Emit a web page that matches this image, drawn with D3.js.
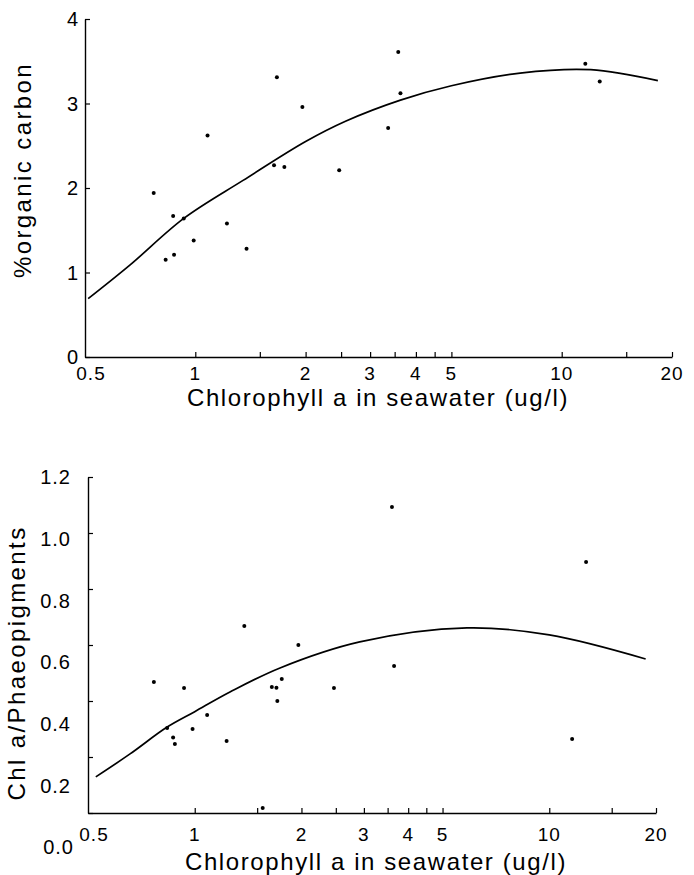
<!DOCTYPE html>
<html>
<head>
<meta charset="utf-8">
<script src="https://cdn.jsdelivr.net/npm/d3@7"></script>
<style>
    body { margin: 0; background: #fff; }
    svg { display: block; font-family: "Liberation Sans", Arial, sans-serif; }
</style>
</head>
<body>
<svg class="chlPlots" width="694" height="875"></svg>
<script>
// shared x axis (log scale, chlorophyll in seawater)
const xTickValues = [1, 1.5, 2, 2.5, 3, 3.5, 4, 4.5, 5, 10, 15, 20];
const xTickLabels = [0.5, 1, 2, 3, 4, 5, 10, 20];

// top panel: % organic carbon
const carbonChl = [1.67, 1.96, 1.08, 1.64, 1.75, 2.47, 0.77, 0.87, 0.93, 1.22, 0.99, 1.38, 0.83, 0.875, 3.58, 3.63, 3.36, 11.6, 12.7];
const carbonPct = [3.31, 2.96, 2.62, 2.27, 2.25, 2.21, 1.94, 1.67, 1.64, 1.58, 1.38, 1.28, 1.15, 1.21, 3.61, 3.12, 2.71, 3.47, 3.26];
const carbonFitChl = [0.51, 0.664, 0.93, 1.35, 2, 2.57, 3.63, 5, 7.7, 12, 18.3];
const carbonFitPct = [0.69, 1.09, 1.64, 2.09, 2.55, 2.79, 3.04, 3.21, 3.36, 3.40, 3.27];
const carbonTicks = [0, 1, 2, 3, 4];

// bottom panel: chl a / phaeopigments
const ratioChl = [1.38, 1.96, 3.60, 12.7, 0.767, 0.933, 1.084, 0.986, 0.869, 0.879, 0.836, 1.23, 1.65, 1.70, 1.76, 1.71, 2.47, 1.555, 3.65, 11.6];
const ratioVal = [0.668, 0.60, 1.093, 0.896, 0.468, 0.446, 0.35, 0.30, 0.27, 0.246, 0.304, 0.257, 0.45, 0.447, 0.479, 0.40, 0.446, 0.018, 0.525, 0.264];
const ratioFitChl = [0.526, 0.657, 0.836, 1.0, 1.257, 1.74, 2.92, 5.86, 10, 18.7];
const ratioFitVal = [0.129, 0.211, 0.307, 0.362, 0.432, 0.518, 0.611, 0.661, 0.636, 0.55];
const ratioTicks = [0, 0.2, 0.4, 0.6, 0.8, 1.0, 1.2];
const ratioTickLabels = ["0.0", "0.2", "0.4", "0.6", "0.8", "1.0", "1.2"];

const svg = d3.select(".chlPlots");

function drawPanel(opt) {
    const x = d3.scaleLog().domain([0.5, 20]).range([opt.left, opt.right]);
    const y = d3.scaleLinear().domain(opt.yDomain).range([opt.bottom, opt.top]);
    const g = svg.append("g");

    // X axis, ticks pointing inward
    const xAxis = g.append("g")
        .attr("transform", `translate(0,${opt.bottom})`)
        .call(d3.axisBottom(x).tickValues(xTickValues).tickSize(-5).tickSizeOuter(0).tickFormat(""));
    xAxis.select(".domain").attr("stroke-width", 1.4);
    xAxis.selectAll(".tick line").attr("stroke-width", 1.2);

    g.selectAll(".xlab")
        .data(xTickLabels)
        .enter()
        .append("text")
        .attr("x", d => x(d) + (d === 0.5 ? 6 : 0))
        .attr("y", opt.xLabelY)
        .attr("text-anchor", "middle")
        .style("font-size", "19px")
        .style("letter-spacing", "1px")
        .text(d => d);

    g.append("text")
        .attr("x", opt.titleX)
        .attr("y", opt.titleY)
        .attr("text-anchor", "middle")
        .style("font-size", "24px")
        .style("letter-spacing", "1.6px")
        .text("Chlorophyll a in seawater (ug/l)");

    // Y axis
    const yAxis = g.append("g")
        .attr("transform", `translate(${opt.left},0)`)
        .call(d3.axisLeft(y).tickValues(opt.yTicks).tickSize(-5).tickSizeOuter(0).tickFormat(""));
    yAxis.select(".domain").attr("stroke-width", 1.4);
    yAxis.selectAll(".tick line").attr("stroke-width", 1.2);

    g.selectAll(".ylab")
        .data(opt.yTicks)
        .enter()
        .append("text")
        .attr("x", opt.yLabelX)
        .attr("y", (d, i) => opt.yLabelPos(d, i))
        .attr("dy", "0.36em")
        .attr("text-anchor", "end")
        .style("font-size", "20px")
        .style("letter-spacing", "1px")
        .text((d, i) => opt.yLabels[i]);

    g.append("text")
        .attr("transform", `translate(${opt.yTitleX},${opt.yTitleY})rotate(-90)`)
        .attr("text-anchor", "middle")
        .style("font-size", "24px")
        .style("letter-spacing", "2.4px")
        .text(opt.yTitle);

    // fitted curve
    const fit = opt.fitX.map((d, i) => [x(d), y(opt.fitY[i])]);
    g.append("path")
        .attr("d", d3.line().curve(d3.curveCatmullRom.alpha(0.5))(fit))
        .attr("fill", "none")
        .attr("stroke", "black")
        .attr("stroke-width", 1.7);

    // data points
    g.selectAll(".pt")
        .data(opt.ptX)
        .enter()
        .append("circle")
        .attr("cx", d => x(d))
        .attr("cy", (d, i) => y(opt.ptY[i]))
        .attr("r", 2)
        .attr("fill", "black");
}

// top panel
const yCarbon = d3.scaleLinear().domain([0, 4]).range([357, 19]);
drawPanel({
    left: 85, right: 672, top: 19, bottom: 357,
    yDomain: [0, 4], yTicks: carbonTicks, yLabels: carbonTicks,
    yLabelX: 79, yLabelPos: d => yCarbon(d),
    xLabelY: 380, titleX: 378, titleY: 406,
    yTitle: "%organic carbon", yTitleX: 31, yTitleY: 170,
    fitX: carbonFitChl, fitY: carbonFitPct,
    ptX: carbonChl, ptY: carbonPct
});

// bottom panel: printed labels drift off the tick marks
const yRatioLabel = d3.scaleLinear().domain([0, 1.2]).range([847, 477]);
drawPanel({
    left: 88, right: 656, top: 477, bottom: 813,
    yDomain: [0, 1.2], yTicks: ratioTicks, yLabels: ratioTickLabels,
    yLabelX: 71, yLabelPos: d => yRatioLabel(d),
    xLabelY: 841, titleX: 376, titleY: 870,
    yTitle: "Chl a/Phaeopigments", yTitleX: 25, yTitleY: 663,
    fitX: ratioFitChl, fitY: ratioFitVal,
    ptX: ratioChl, ptY: ratioVal
});

// "0.0" sits lower-left, below the axis corner
svg.selectAll("text")
    .filter(function() { return this.textContent === "0.0"; })
    .attr("x", 74);
</script>
</body>
</html>
